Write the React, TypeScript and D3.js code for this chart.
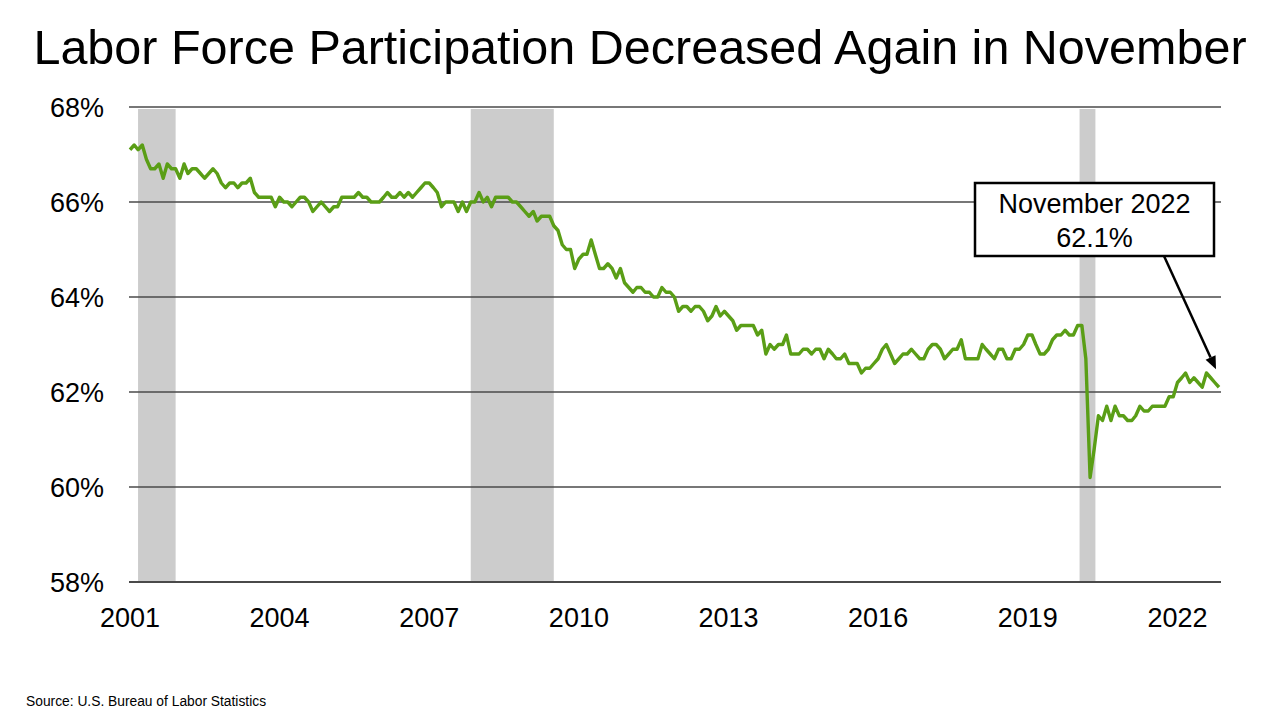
import React from "react";
import * as d3 from "d3";

const title = "Labor Force Participation Decreased Again in November";
const source = "Source: U.S. Bureau of Labor Statistics";
const startMonth = "2001-01";

const values2001 = [67.1, 67.2, 67.1, 67.2, 66.9, 66.7, 66.7, 66.8, 66.5, 66.8, 66.7, 66.7];
const values2002 = [66.5, 66.8, 66.6, 66.7, 66.7, 66.6, 66.5, 66.6, 66.7, 66.6, 66.4, 66.3];
const values2003 = [66.4, 66.4, 66.3, 66.4, 66.4, 66.5, 66.2, 66.1, 66.1, 66.1, 66.1, 65.9];
const values2004 = [66.1, 66.0, 66.0, 65.9, 66.0, 66.1, 66.1, 66.0, 65.8, 65.9, 66.0, 65.9];
const values2005 = [65.8, 65.9, 65.9, 66.1, 66.1, 66.1, 66.1, 66.2, 66.1, 66.1, 66.0, 66.0];
const values2006 = [66.0, 66.1, 66.2, 66.1, 66.1, 66.2, 66.1, 66.2, 66.1, 66.2, 66.3, 66.4];
const values2007 = [66.4, 66.3, 66.2, 65.9, 66.0, 66.0, 66.0, 65.8, 66.0, 65.8, 66.0, 66.0];
const values2008 = [66.2, 66.0, 66.1, 65.9, 66.1, 66.1, 66.1, 66.1, 66.0, 66.0, 65.9, 65.8];
const values2009 = [65.7, 65.8, 65.6, 65.7, 65.7, 65.7, 65.5, 65.4, 65.1, 65.0, 65.0, 64.6];
const values2010 = [64.8, 64.9, 64.9, 65.2, 64.9, 64.6, 64.6, 64.7, 64.6, 64.4, 64.6, 64.3];
const values2011 = [64.2, 64.1, 64.2, 64.2, 64.1, 64.1, 64.0, 64.0, 64.2, 64.1, 64.1, 64.0];
const values2012 = [63.7, 63.8, 63.8, 63.7, 63.8, 63.8, 63.7, 63.5, 63.6, 63.8, 63.6, 63.7];
const values2013 = [63.6, 63.5, 63.3, 63.4, 63.4, 63.4, 63.4, 63.2, 63.3, 62.8, 63.0, 62.9];
const values2014 = [63.0, 63.0, 63.2, 62.8, 62.8, 62.8, 62.9, 62.9, 62.8, 62.9, 62.9, 62.7];
const values2015 = [62.9, 62.8, 62.7, 62.7, 62.8, 62.6, 62.6, 62.6, 62.4, 62.5, 62.5, 62.6];
const values2016 = [62.7, 62.9, 63.0, 62.8, 62.6, 62.7, 62.8, 62.8, 62.9, 62.8, 62.7, 62.7];
const values2017 = [62.9, 63.0, 63.0, 62.9, 62.7, 62.8, 62.9, 62.9, 63.1, 62.7, 62.7, 62.7];
const values2018 = [62.7, 63.0, 62.9, 62.8, 62.7, 62.9, 62.9, 62.7, 62.7, 62.9, 62.9, 63.0];
const values2019 = [63.2, 63.2, 63.0, 62.8, 62.8, 62.9, 63.1, 63.2, 63.2, 63.3, 63.2, 63.2];
const values2020 = [63.4, 63.4, 62.7, 60.2, 60.8, 61.5, 61.4, 61.7, 61.4, 61.7, 61.5, 61.5];
const values2021 = [61.4, 61.4, 61.5, 61.7, 61.6, 61.6, 61.7, 61.7, 61.7, 61.7, 61.9, 61.9];
const values2022 = [62.2, 62.3, 62.4, 62.2, 62.3, 62.2, 62.1, 62.4, 62.3, 62.2, 62.1];

const yTicks = [58, 60, 62, 64, 66, 68];
const xTickYears = [2001, 2004, 2007, 2010, 2013, 2016, 2019, 2022];
const recessions: [string, string][] = [
  ["2001-03-01", "2001-12-01"],
  ["2007-11-01", "2009-07-01"],
  ["2020-01-15", "2020-05-10"],
];
const annotationLines = ["November 2022", "62.1%"];

const allValues = [
  ...values2001, ...values2002, ...values2003, ...values2004, ...values2005,
  ...values2006, ...values2007, ...values2008, ...values2009, ...values2010,
  ...values2011, ...values2012, ...values2013, ...values2014, ...values2015,
  ...values2016, ...values2017, ...values2018, ...values2019, ...values2020,
  ...values2021, ...values2022,
];

const parseMonth = d3.timeParse("%Y-%m");
const start = parseMonth(startMonth) as Date;
const series = allValues.map((v, i) => ({ date: d3.timeMonth.offset(start, i), value: v }));
const last = series[series.length - 1];

const FONT = "'Liberation Sans', Arial, Helvetica, sans-serif";

export default function App() {
  const W = 1280, H = 720;
  const x = d3.scaleTime().domain([start, last.date]).range([130, 1219]);
  const y = d3.scaleLinear().domain([58, 68]).range([582, 107]);
  const line = d3
    .line<{ date: Date; value: number }>()
    .x((d) => x(d.date))
    .y((d) => y(d.value));

  const boxX = 975, boxY = 183, boxW = 239, boxH = 73;
  const arrowStart = { x: 1164, y: boxY + boxH };
  const tip = { x: x(last.date) - 3, y: y(last.value) - 18 };
  const ang = Math.atan2(tip.y - arrowStart.y, tip.x - arrowStart.x);
  const ah = 13, aw = 5.5;
  const bx = tip.x - ah * Math.cos(ang), by = tip.y - ah * Math.sin(ang);
  const head = [
    [tip.x, tip.y],
    [bx + aw * Math.sin(ang), by - aw * Math.cos(ang)],
    [bx - aw * Math.sin(ang), by + aw * Math.cos(ang)],
  ];

  return (
    <div style={{ position: "absolute", left: 0, top: 0, width: W, height: H, background: "#fff" }}>
      <svg width={W} height={H} style={{ display: "block" }} fontFamily={FONT}>
        <rect width={W} height={H} fill="#fff" />
        <text x={640} y={64} textAnchor="middle" fontSize={48.5} fill="#000">
          {title}
        </text>
        {recessions.map(([a, b], i) => (
          <rect
            key={i}
            x={x(new Date(a))}
            width={x(new Date(b)) - x(new Date(a))}
            y={y(68) + 2}
            height={y(58) - y(68) - 2}
            fill="#cccccc"
          />
        ))}
        {yTicks.map((t) => (
          <g key={t}>
            <line x1={129} x2={1221} y1={y(t)} y2={y(t)} stroke="#4a4a4a" strokeWidth={t === 58 ? 2 : 1.5} />
            <text x={104} y={y(t) + 9.5} textAnchor="end" fontSize={27} fill="#000">
              {t}%
            </text>
          </g>
        ))}
        {xTickYears.map((yr) => (
          <text key={yr} x={x(new Date(yr, 0, 1))} y={627} textAnchor="middle" fontSize={27} fill="#000">
            {yr}
          </text>
        ))}
        <path d={line(series) as string} fill="none" stroke="#5a9e16" strokeWidth={3.4} strokeLinejoin="round" />
        <rect x={boxX} y={boxY} width={boxW} height={boxH} fill="#fff" stroke="#000" strokeWidth={2.5} />
        <text x={boxX + boxW / 2} y={213} textAnchor="middle" fontSize={27} fill="#000">
          {annotationLines[0]}
        </text>
        <text x={boxX + boxW / 2} y={247} textAnchor="middle" fontSize={27} fill="#000">
          {annotationLines[1]}
        </text>
        <line x1={arrowStart.x} y1={arrowStart.y} x2={bx} y2={by} stroke="#000" strokeWidth={2.5} />
        <polygon points={head.map((p) => p.join(",")).join(" ")} fill="#000" />
        <text x={26} y={706} fontSize={13.8} fill="#000">
          {source}
        </text>
      </svg>
    </div>
  );
}
